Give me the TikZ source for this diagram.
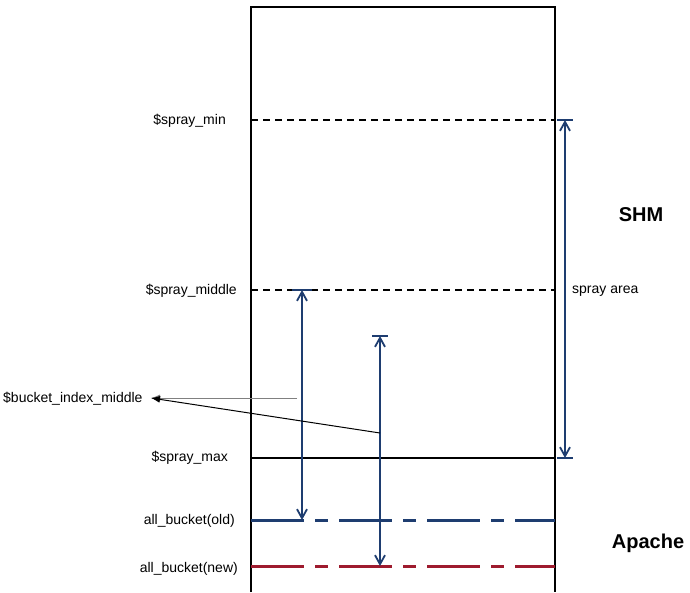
\documentclass[tikz,border=0pt]{standalone}
\usepackage{fontspec}
\setmainfont{Liberation Sans}
\usetikzlibrary{arrows.meta}
\definecolor{navy}{HTML}{1E3D70}
\definecolor{darkred}{HTML}{9E1B2E}
\tikzset{
  lbl/.style={font=\fontsize{14}{16}\selectfont, inner sep=0pt, anchor=east},
  big/.style={font=\fontsize{20}{22}\selectfont\bfseries, inner sep=0pt},
  blk/.style={line width=2pt, black},
  blkdash/.style={line width=1.6pt, black, dash pattern=on 7pt off 5pt},
  oldline/.style={line width=3pt, navy, dash pattern=on 53pt off 11pt on 13pt off 11pt},
  newline/.style={line width=3pt, darkred, dash pattern=on 53pt off 11pt on 13pt off 11pt},
  dim/.style={line width=2pt, navy, {Straight Barb[length=9pt,width=10pt,line width=1.8pt]}-{Straight Barb[length=9pt,width=10pt,line width=1.8pt]}},
  tbar/.style={line width=2pt, navy},
  ptr/.style={line width=1pt, -{Latex[length=9pt,width=7pt]}}
}
\begin{document}
\begin{tikzpicture}[x=1pt,y=-1pt]
\useasboundingbox (0,0) rectangle (690,592);
% main column
\draw[blk] (251,592) -- (251,7) -- (555,7) -- (555,592);
% levels
\coordinate (minL) at (251,120); \coordinate (minR) at (555,120);
\coordinate (midL) at (251,290); \coordinate (midR) at (555,290);
\coordinate (maxL) at (251,458); \coordinate (maxR) at (555,458);
\coordinate (oldL) at (251,520); \coordinate (oldR) at (555,520);
\coordinate (newL) at (251,566); \coordinate (newR) at (555,566);
\draw[blkdash] (minL) -- (minR);
\draw[blkdash] (midL) -- (midR);
\draw[line width=1.8pt] (maxL) -- (maxR);
\draw[oldline] (oldL) -- (oldR);
\draw[newline] (newL) -- (newR);
% left labels
\node[lbl] (smin) at (226,121) {\$spray\_min};
\node[lbl] (smid) at (237,291) {\$spray\_middle};
\node[lbl] (smax) at (228,458) {\$spray\_max};
\node[lbl] (bold) at (235,521) {all\_bucket(old)};
\node[lbl] (bnew) at (238,569) {all\_bucket(new)};
\node[lbl, anchor=west] (bim) at (3,399) {\$bucket\_index\_middle};
% spray area
\coordinate (saT) at (565,120); \coordinate (saB) at (565,458);
\draw[tbar] (557,120) -- (573,120);
\draw[tbar] (557,458) -- (573,458);
\draw[dim] (saT) -- (saB);
\node[lbl, anchor=west] (sa) at (572,291) {spray area};
\node[big] (shm) at (641,215) {SHM};
\node[big] (apache) at (648,543) {Apache};
% arrow 1
\coordinate (a1T) at (302,290); \coordinate (a1B) at (302,520);
\draw[tbar] (292,290) -- (312,290);
\draw[dim] (a1T) -- (a1B);
% arrow 2
\coordinate (a2T) at (380,336); \coordinate (a2B) at (380,566);
\draw[tbar] (372,336) -- (388,336);
\draw[dim] (a2T) -- (a2B);
% pointers
\coordinate (p1) at (297,398);
\coordinate (p2) at (380,433);
\coordinate (tip) at (151,398);
\draw[ptr, gray] (p1) -- (tip);
\draw[ptr] (p2) -- (tip);
\end{tikzpicture}
\end{document}
